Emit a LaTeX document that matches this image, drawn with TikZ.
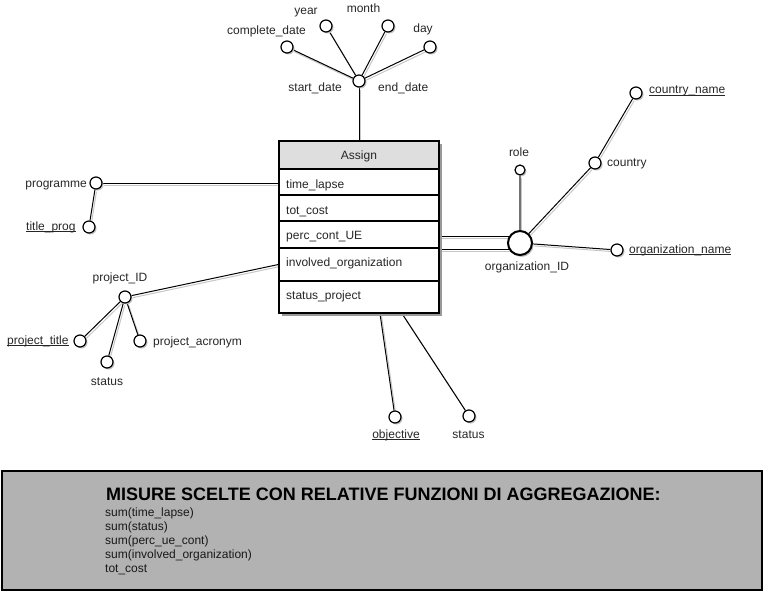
\documentclass[tikz,border=0pt]{standalone}
\usepackage{fontspec}
\setmainfont{Liberation Sans}
\usetikzlibrary{calc,shadows,backgrounds}
\newcommand\ulx[1]{\setbox0\hbox{#1}\rlap{\rule[-2pt]{\wd0}{0.8pt}}\box0}
\newcommand\cnx[3][]{\draw[shd] #2 -- #3; \draw[conn,#1] #2 -- #3;}
\begin{document}
\begin{tikzpicture}[x=1pt,y=-1pt,
  every node/.style={font=\fontsize{12}{14}\selectfont, text=black!85},
  attr/.style={circle, draw=black, line width=1.2pt, fill=white, minimum size=12, inner sep=0,
    drop shadow={shadow xshift=1.5pt, shadow yshift=-1.5pt, fill=black!25, opacity=1}},
  lbl/.style={inner sep=0},
  conn/.style={draw=black, line width=1pt},
  shd/.style={draw=black!22, line width=1pt, transform canvas={shift={(1.5pt,-2pt)}}},
  rowbox/.style={draw, line width=1.2pt, minimum width=160, inner sep=0},
  meas/.style={lbl, anchor=base west, text=black!90, font=\fontsize{12}{14}\selectfont}
]
\useasboundingbox (0,0) rectangle (763,591);

% ---- entity Assign
\node[draw, line width=1.2pt, fill=white, minimum width=160, minimum height=172, inner sep=0,
  drop shadow={shadow xshift=3pt, shadow yshift=-3pt, fill=black!40, opacity=1}] (assign) at (359,227) {};
\node[rowbox, minimum height=28, fill=black!13] (hd) at (359,155) {};
\node[rowbox, minimum height=26] (r1) at (359,182) {};
\node[rowbox, minimum height=26] (r2) at (359,208) {};
\node[rowbox, minimum height=27] (r3) at (359,234.5) {};
\node[rowbox, minimum height=33] (r4) at (359,264.5) {};
\node[rowbox, minimum height=32] (r5) at (359,297) {};
\node[lbl, anchor=base] (tA) at (359,160) {Assign};
\node[lbl, anchor=base west] (t1) at (286,188) {time\_lapse};
\node[lbl, anchor=base west] (t2) at (286,214) {tot\_cost};
\node[lbl, anchor=base west] (t3) at (286,239) {perc\_cont\_UE};
\node[lbl, anchor=base west] (t4) at (286,266) {involved\_organization};
\node[lbl, anchor=base west] (t5) at (286,299) {status\_project};

% ---- date attributes
\node[attr] (hub) at (359,81) {};
\node[attr] (cd) at (287,47) {};
\node[attr] (yr) at (326,26) {};
\node[attr] (mo) at (388,26) {};
\node[attr] (dy) at (430,47) {};
\node[lbl, anchor=base] (lcd) at (266.5,35) {complete\_date};
\node[lbl, anchor=base] (lyr) at (306,15) {year};
\node[lbl, anchor=base] (lmo) at (363.5,13) {month};
\node[lbl, anchor=base] (ldy) at (423,33) {day};
\node[lbl, anchor=base east] (lsd) at (342,92) {start\_date};
\node[lbl, anchor=base west] (led) at (378,92) {end\_date};

% ---- programme
\node[attr] (prog) at (96,183) {};
\node[attr] (tp) at (89,227) {};
\node[lbl, anchor=base east] (lprog) at (87,187) {programme};
\node[lbl, anchor=base west] (ltp) at (26,230) {\ulx{title\_prog}};

% ---- project
\node[attr] (pid) at (125,297) {};
\node[attr] (pt) at (80,341) {};
\node[attr] (pst) at (107,362) {};
\node[attr] (pac) at (140,341) {};
\node[lbl, anchor=base] (lpid) at (120,281) {project\_ID};
\node[lbl, anchor=base west] (lpt) at (7,344) {\ulx{project\_title}};
\node[lbl, anchor=base] (lpst) at (107,385) {status};
\node[lbl, anchor=base west] (lpac) at (153,345) {project\_acronym};

% ---- organization
\node[circle, draw=black, line width=2pt, fill=white, minimum size=24, inner sep=0,
  drop shadow={shadow xshift=1.5pt, shadow yshift=-2pt, fill=black!25, opacity=1}] (org) at (520,243) {};
\node[attr, minimum size=10] (role) at (520,170) {};
\node[attr] (ctry) at (595,163) {};
\node[attr] (cn) at (636,93) {};
\node[attr] (on) at (617,250) {};
\node[lbl, anchor=base] (lorg) at (527,270) {organization\_ID};
\node[lbl, anchor=base] (lrole) at (519,157) {role};
\node[lbl, anchor=base west] (lctry) at (607,167) {country};
\node[lbl, anchor=base west] (lcn) at (649,94) {\ulx{country\_name}};
\node[lbl, anchor=base west] (lon) at (629,253) {\ulx{organization\_name}};

% ---- bottom attributes
\node[attr] (obj) at (395,417) {};
\node[attr] (st2) at (469,416) {};
\node[lbl, anchor=base] (lobj) at (396,438) {\ulx{objective}};
\node[lbl, anchor=base] (lst2) at (468.5,438) {status};

\coordinate (o1) at ($(r3.east)+(0,1.5)$);
\coordinate (o2) at ($(r3.east)+(0,14.5)$);
\coordinate (b1) at ($(r5.south)+(21,0)$);
\coordinate (b2) at ($(r5.south)+(43,0)$);

\begin{scope}[on background layer]
\cnx{(hub)}{(cd)}
\cnx{(hub)}{(yr)}
\cnx{(hub)}{(mo)}
\cnx{(hub)}{(dy)}
\cnx{(hub)}{(hd.north)}
\cnx{(prog)}{(prog -| r1.west)}
\cnx{(prog)}{(tp)}
\cnx{(pid)}{(r4.west)}
\cnx{(pid)}{(pt)}
\cnx{(pid)}{(pst)}
\cnx{(pid)}{(pac)}
\cnx{(o1)}{(org.center |- o1)}
\cnx{(o2)}{(org.center |- o2)}
\cnx[draw=black!55, line width=1.6pt]{(org)}{(role)}
\cnx{(org)}{(ctry)}
\cnx{(ctry)}{(cn)}
\cnx{(org)}{(on)}
\cnx{(b1)}{(obj)}
\cnx{(b2)}{(st2)}
\end{scope}

% ---- measures box
\node[draw, line width=1.3pt, fill=black!30, minimum width=760, minimum height=119, inner sep=0] (mbox) at (382,530.5) {};
\node[lbl, anchor=base west, text=black, font=\fontsize{18}{20}\selectfont\bfseries] (mtitle) at (106,500) {MISURE SCELTE CON RELATIVE FUNZIONI DI AGGREGAZIONE:};
\node[meas] (m1) at (105,516) {sum(time\_lapse)};
\node[meas] (m2) at (105,530) {sum(status)};
\node[meas] (m3) at (105,544) {sum(perc\_ue\_cont)};
\node[meas] (m4) at (105,558) {sum(involved\_organization)};
\node[meas] (m5) at (105,572) {tot\_cost};
\end{tikzpicture}
\end{document}
